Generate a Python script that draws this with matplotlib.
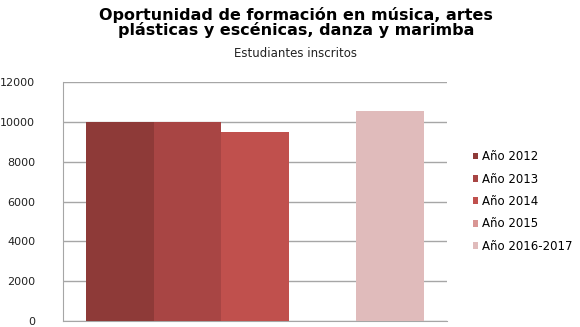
import numpy as np
import matplotlib.pyplot as plt

plt.rcParams['font.family'] = ['DejaVu Sans']

labels = ["Año 2012", "Año 2013", "Año 2014", "Año 2015", "Año 2016-2017"]
values = [10000, 10000, 9480, 0, 10520]
colors = ["#8E3A38", "#A84544", "#C0504D", "#D99694", "#E0BBBB"]

fig = plt.figure(figsize=(5.8, 3.27), dpi=100)
ax = fig.add_axes([63 / 580, (327 - 321) / 327, 384 / 580, 239 / 327])

x = np.arange(len(values))
for i in range(len(values)):
    ax.bar(x[i], values[i], width=1.0, color=colors[i], label=labels[i], zorder=3)

ax.set_xlim(-0.5 - 0.34, 4.5 + 0.34)
ax.set_ylim(0, 12000)
ax.set_yticks(np.arange(0, 12001, 2000))
ax.yaxis.grid(True, color="#A6A6A6", linewidth=1.0, zorder=0)
ax.set_xticks([])
ax.tick_params(axis="y", length=0, pad=20, labelsize=8, labelcolor="#222222")
for side in ["top", "right"]:
    ax.spines[side].set_visible(False)
ax.spines["left"].set_color("#A6A6A6")
ax.spines["bottom"].set_color("#A6A6A6")

fig.text(0.51, 0.978, "Oportunidad de formación en música, artes\nplásticas y escénicas, danza y marimba",
         ha="center", va="top", fontsize=11.5, fontweight="bold", linespacing=0.9)
fig.text(0.51, 0.835, "Estudiantes inscritos", ha="center", va="center", fontsize=8.5, color="#222222")

leg = ax.legend(loc="center left", bbox_to_anchor=(1.045, 0.5), frameon=False, fontsize=8.5,
                handlelength=0.5, handleheight=0.5, handletextpad=0.3, labelspacing=0.8,
                borderaxespad=0.3)

fig.savefig("out.png", dpi=100)
